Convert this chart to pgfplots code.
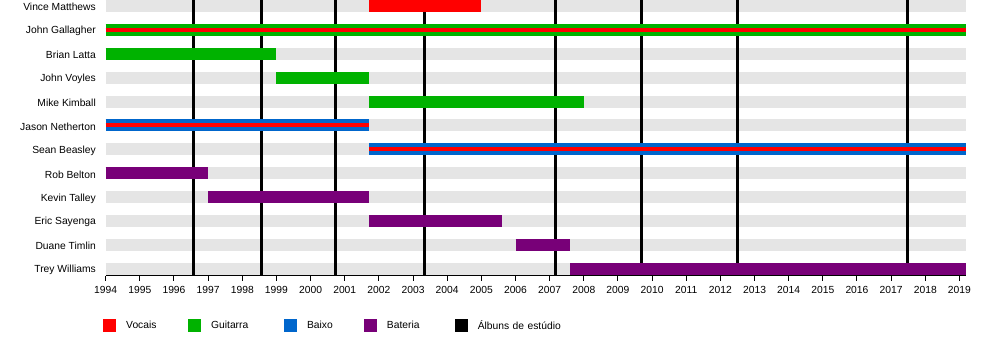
\documentclass[border=0pt]{standalone}
\usepackage{fontspec}
\setmainfont{Liberation Sans}
\usepackage{pgfplots}
\pgfplotsset{compat=1.18}
\definecolor{cvoc}{RGB}{255,0,0}
\definecolor{cgui}{RGB}{0,178,0}
\definecolor{cbai}{RGB}{0,102,204}
\definecolor{cbat}{RGB}{120,0,120}
\definecolor{cband}{RGB}{229,229,229}
\pgfplotsset{
  band/.style={forget plot, draw=cband, line width=12bp},
  bar/.style={forget plot, line width=12bp},
  stripe/.style={forget plot, draw=cvoc, line width=4bp},
  album/.style={forget plot, draw=black, line width=3bp},
}
\begin{document}
\begin{tikzpicture}
\path[use as bounding box] (0,0) rectangle (990bp,340bp);
\begin{axis}[
  at={(105.7bp,64.5bp)}, anchor=south west,
  scale only axis, width=860.3bp, height=275.5bp,
  xmin=1994, xmax=2019.19, ymin=0.737, ymax=12.24,
  axis x line*=bottom, axis y line*=left,
  axis line style={-},
  y axis line style={draw=none},
  x axis line style={line width=1bp},
  xtick={1994,...,2019},
  ytick={1,...,12},
  yticklabels={Trey Williams, Duane Timlin, Eric Sayenga, Kevin Talley, Rob Belton, Sean Beasley, Jason Netherton, Mike Kimball, John Voyles, Brian Latta, John Gallagher, Vince Matthews},
  tick align=outside,
  x tick style={black, line width=1bp},
  major tick length=5bp,
  y tick style={draw=none},
  /pgf/number format/.cd, 1000 sep={}, assume math mode=true,
  /pgfplots/.cd,
  tick label style={font=\fontsize{10.3bp}{12bp}\selectfont},
  xticklabel style={yshift=-2.5bp},
  yticklabel style={anchor=east, inner sep=0pt, xshift=-4.7bp, yshift=-1bp},
  clip=false,
  legend columns=5,
  legend style={at={(axis description cs:-0.003,-0.158)}, anchor=north west,
    draw=none, fill=none, inner sep=0pt,
    font=\fontsize{10.3bp}{12bp}\selectfont,
    nodes={inner sep=0pt},
    /tikz/every odd column/.append style={column sep=10.5bp},
    /tikz/every even column/.append style={column sep=0bp}},
  legend cell align=left,
]
% background bands
\pgfplotsinvokeforeach{1,...,12}{\addplot[band] coordinates {(1994,#1) (2019.19,#1)};}
% studio albums
\addplot[album] coordinates {(1996.565,0.737) (1996.565,12.24)};
\addplot[album] coordinates {(1998.55,0.737) (1998.55,12.24)};
\addplot[album] coordinates {(2000.74,0.737) (2000.74,12.24)};
\addplot[album] coordinates {(2003.33,0.737) (2003.33,12.24)};
\addplot[album] coordinates {(2007.17,0.737) (2007.17,12.24)};
\addplot[album] coordinates {(2009.70,0.737) (2009.70,12.24)};
\addplot[album] coordinates {(2012.49,0.737) (2012.49,12.24)};
\addplot[album] coordinates {(2017.47,0.737) (2017.47,12.24)};
% Vince Matthews
\addplot[bar, draw=cvoc] coordinates {(2001.71,12) (2005.0,12)};
% John Gallagher
\addplot[bar, draw=cgui] coordinates {(1994,11) (2019.19,11)};
\addplot[stripe] coordinates {(1994,11) (2019.19,11)};
% Brian Latta
\addplot[bar, draw=cgui] coordinates {(1994,10) (1999.0,10)};
% John Voyles
\addplot[bar, draw=cgui] coordinates {(1999.0,9) (2001.71,9)};
% Mike Kimball
\addplot[bar, draw=cgui] coordinates {(2001.71,8) (2008.0,8)};
% Jason Netherton
\addplot[bar, draw=cbai] coordinates {(1994,7) (2001.71,7)};
\addplot[stripe] coordinates {(1994,7) (2001.71,7)};
% Sean Beasley
\addplot[bar, draw=cbai] coordinates {(2001.71,6) (2019.19,6)};
\addplot[stripe] coordinates {(2001.71,6) (2019.19,6)};
% Rob Belton
\addplot[bar, draw=cbat] coordinates {(1994,5) (1997.0,5)};
% Kevin Talley
\addplot[bar, draw=cbat] coordinates {(1997.0,4) (2001.71,4)};
% Eric Sayenga
\addplot[bar, draw=cbat] coordinates {(2001.71,3) (2005.6,3)};
% Duane Timlin
\addplot[bar, draw=cbat] coordinates {(2006.0,2) (2007.6,2)};
% Trey Williams
\addplot[bar, draw=cbat] coordinates {(2007.6,1) (2019.19,1)};
% legend
\addlegendimage{legend image code/.code={\fill[cvoc] (0bp,-6bp) rectangle (12bp,6bp);}}
\addlegendentry[text width=62bp, align=left]{Vocais}
\addlegendimage{legend image code/.code={\fill[cgui] (0bp,-6bp) rectangle (12bp,6bp);}}
\addlegendentry[text width=73bp, align=left]{Guitarra}
\addlegendimage{legend image code/.code={\fill[cbai] (0bp,-6bp) rectangle (12bp,6bp);}}
\addlegendentry[text width=57bp, align=left]{Baixo}
\addlegendimage{legend image code/.code={\fill[cbat] (0bp,-6bp) rectangle (12bp,6bp);}}
\addlegendentry[text width=68bp, align=left]{Bateria}
\addlegendimage{legend image code/.code={\fill[black] (0bp,-6bp) rectangle (12bp,6bp);}}
\addlegendentry[text width=100bp, align=left]{Álbuns de estúdio}
\end{axis}
\end{tikzpicture}
\end{document}
